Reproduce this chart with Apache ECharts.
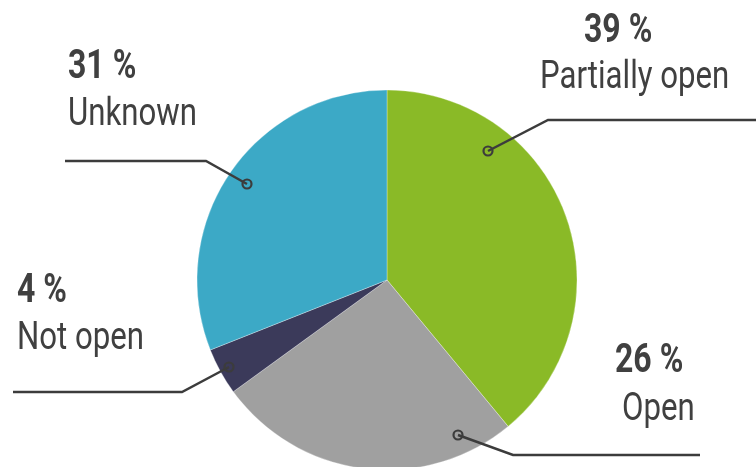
<!DOCTYPE html>
<html><head><meta charset="utf-8">
<script src="https://cdn.jsdelivr.net/npm/echarts@6/dist/echarts.min.js"></script>
<style>html,body{margin:0;padding:0;background:#fff}#c{width:756px;height:467px}</style>
</head><body><div id="c"></div>
<script>
const categories = ['Partially open', 'Open', 'Not open', 'Unknown'];
const values = [39, 26, 4, 31];
const colors = ['#8aba27', '#a0a0a0', '#3b3a5a', '#3ca9c6'];

// annotation layout: value text left/baseline, name text left/baseline, leader line
const labelPos = [
  {vx: 584, vy: 43, nx: 540, ny: 90, line: [[488, 151], [548, 120], [760, 120]]},
  {vx: 615, vy: 373, nx: 622, ny: 422, line: [[458, 435], [513, 455], [700, 455]]},
  {vx: 17, vy: 303, nx: 17, ny: 351, line: [[229, 367], [182, 392], [13, 392]]},
  {vx: 68, vy: 79, nx: 68, ny: 127, line: [[247, 184], [206, 161], [65, 161]]}
];
const FONT = "Roboto, 'DejaVu Sans', sans-serif";
const SX = 0.8;
const TXT = '#404040';
const graphics = [];
labelPos.forEach((L, i) => {
  graphics.push({type: 'text', x: L.vx, y: L.vy - 11.5, scaleX: SX, z: 100,
    style: {text: values[i] + ' %', font: 'bold 40px ' + FONT, fill: TXT, textVerticalAlign: 'middle', verticalAlign: 'middle'}});
  graphics.push({type: 'text', x: L.nx, y: L.ny - 11.5, scaleX: SX, z: 100,
    style: {text: categories[i], font: '39px ' + FONT, fill: TXT, textVerticalAlign: 'middle', verticalAlign: 'middle'}});
  graphics.push({type: 'polyline', z: 100, shape: {points: L.line},
    style: {stroke: '#3c3c3c', lineWidth: 2.5, fill: null}});
  graphics.push({type: 'circle', z: 101, shape: {cx: L.line[0][0], cy: L.line[0][1], r: 4.5},
    style: {fill: 'none', stroke: '#3c3c3c', lineWidth: 2.2}});
});
const chart = echarts.init(document.getElementById('c'));
chart.setOption({
  animation: false,
  series: [{
    type: 'pie',
    center: [387, 280],
    radius: 190,
    startAngle: 90,
    clockwise: true,
    data: categories.map((n, i) => ({name: n, value: values[i], itemStyle: {color: colors[i]}})),
    itemStyle: {borderColor: 'rgba(255,255,255,0.6)', borderWidth: 0.5},
    emphasis: {disabled: true},
    label: {show: false},
    labelLine: {show: false}
  }],
  graphic: graphics
});
</script></body></html>
